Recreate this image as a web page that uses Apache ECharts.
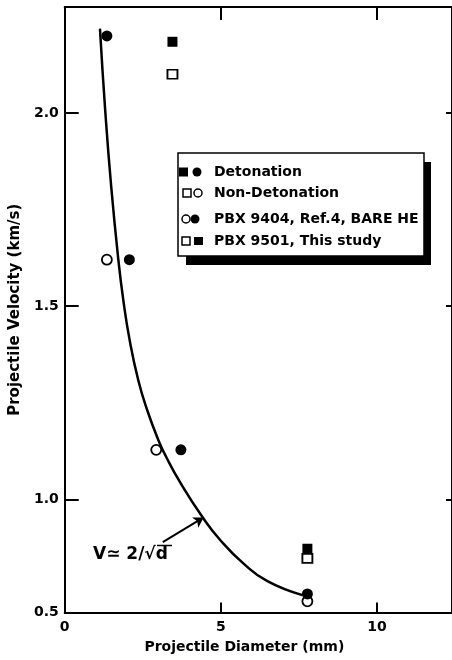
<!DOCTYPE html>
<html>
<head>
<meta charset="utf-8">
<script src="https://cdn.jsdelivr.net/npm/echarts@6/dist/echarts.min.js"></script>
<style>html,body{margin:0;padding:0;background:#fff;}#c{width:452px;height:660px;}</style>
</head>
<body>
<div id="c"></div>
<script>
// ---- data ----
const xTickValues = [5, 10];
const xLabelValues = [0, 5, 10];
const yTickValues = [1.0, 1.5, 2.0];
const yLabelValues = [0.707, 1.0, 1.5, 2.0];
const yLabelText = ['0.5', '1.0', '1.5', '2.0'];

// fitted curve V ~ 2/sqrt(d) as drawn
const fitD = [1.129, 1.300, 1.489, 1.719, 1.877, 2.079, 2.356, 2.640, 3.000, 3.246, 3.716, 4.410, 4.984, 5.719, 6.490, 7.609];
const fitV = [2.218, 2.003, 1.809, 1.619, 1.515, 1.412, 1.308, 1.231, 1.153, 1.110, 1.041, 0.954, 0.894, 0.834, 0.788, 0.752];

// PBX 9404 (Ref.4, bare HE) - circles
const pbx9404DetD = [1.35, 2.07, 3.72, 7.77];
const pbx9404DetV = [2.199, 1.620, 1.128, 0.755];
const pbx9404NonD = [1.35, 2.93, 7.77];
const pbx9404NonV = [1.620, 1.128, 0.736];

// PBX 9501 (this study) - squares
const pbx9501DetD = [3.45, 7.77];
const pbx9501DetV = [2.184, 0.872];
const pbx9501NonD = [3.45, 7.77];
const pbx9501NonV = [2.100, 0.847];

// annotation arrow (data coords)
const arrowFrom = [3.14, 0.889];
const arrowTo = [4.45, 0.953];

const zip = (a, b) => a.map((v, i) => [v, b[i]]);
const FF = 'DejaVu Sans';
const black = '#000';

const chart = echarts.init(document.getElementById('c'), null, {renderer: 'canvas'});

const axisLineStyle = {show: true, onZero: false, lineStyle: {color: black, width: 2}};

const option = {
  backgroundColor: '#fff',
  animation: false,
  grid: {left: 60.5, top: 7, width: 393, height: 605.5, containLabel: false},
  xAxis: [
    {
      type: 'value', min: 0, max: 12.4, position: 'bottom',
      axisLine: axisLineStyle,
      axisTick: {show: true, inside: true, length: 10, customValues: xTickValues, lineStyle: {color: black, width: 2}},
      axisLabel: {customValues: xLabelValues, color: black, fontSize: 14, fontFamily: FF, fontWeight: 'bold', margin: 8},
      splitLine: {show: false},
      name: 'Projectile Diameter (mm)', nameLocation: 'middle', nameGap: 28,
      nameTextStyle: {color: black, fontSize: 14, fontFamily: FF, fontWeight: 'bold', padding: [0, 28, 0, 0]}
    },
    {
      type: 'value', min: 0, max: 12.4, position: 'top',
      axisLine: axisLineStyle,
      axisTick: {show: true, inside: true, length: 13, customValues: xTickValues, lineStyle: {color: black, width: 2}},
      axisLabel: {show: false},
      splitLine: {show: false}
    }
  ],
  yAxis: [
    {
      type: 'value', min: 0.707, max: 2.274, position: 'left',
      axisLine: axisLineStyle,
      axisTick: {show: true, inside: true, length: 14, customValues: yTickValues, lineStyle: {color: black, width: 2}},
      axisLabel: {
        customValues: yLabelValues, color: black, fontSize: 14, fontFamily: FF, fontWeight: 'bold', margin: 6,
        formatter: function (v) {
          let best = 0;
          yLabelValues.forEach((t, i) => { if (Math.abs(t - v) < Math.abs(yLabelValues[best] - v)) best = i; });
          return yLabelText[best];
        }
      },
      splitLine: {show: false},
      name: 'Projectile Velocity (km/s)', nameLocation: 'middle', nameGap: 25,
      nameTextStyle: {color: black, fontSize: 15, fontFamily: FF, fontWeight: 'bold'}
    },
    {
      type: 'value', min: 0.707, max: 2.274, position: 'right',
      axisLine: axisLineStyle,
      axisTick: {show: true, inside: true, length: 6, customValues: yTickValues, lineStyle: {color: black, width: 2}},
      axisLabel: {show: false},
      splitLine: {show: false}
    }
  ],
  series: [
    {
      name: 'fit', type: 'line', data: zip(fitD, fitV), smooth: 0.5, symbol: 'none',
      lineStyle: {color: black, width: 2.5}, silent: true, z: 2,
      markLine: {
        silent: true, symbol: ['none', 'arrow'], symbolSize: [9, 10],
        lineStyle: {color: black, width: 2, type: 'solid'}, label: {show: false},
        data: [[{coord: arrowFrom}, {coord: arrowTo}]]
      }
    },
    {
      name: 'PBX 9404 non-detonation', type: 'scatter', data: zip(pbx9404NonD, pbx9404NonV),
      symbol: 'circle', symbolSize: 10, itemStyle: {color: '#fff', borderColor: black, borderWidth: 1.8, opacity: 1}, z: 3
    },
    {
      name: 'PBX 9404 detonation', type: 'scatter', data: zip(pbx9404DetD, pbx9404DetV),
      symbol: 'circle', symbolSize: 11, itemStyle: {color: black, opacity: 1}, z: 4
    },
    {
      name: 'PBX 9501 non-detonation', type: 'scatter', data: zip(pbx9501NonD, pbx9501NonV),
      symbol: 'rect', symbolSize: [10, 9], itemStyle: {color: '#fff', borderColor: black, borderWidth: 1.8, opacity: 1}, z: 3
    },
    {
      name: 'PBX 9501 detonation', type: 'scatter', data: zip(pbx9501DetD, pbx9501DetV),
      symbol: 'rect', symbolSize: [10, 10], itemStyle: {color: black, opacity: 1}, z: 4
    }
  ],
  graphic: [
    // legend box with drop shadow
    {type: 'rect', shape: {x: 186, y: 162, width: 245, height: 103}, style: {fill: black}, z: 10},
    {type: 'rect', shape: {x: 178, y: 153, width: 246, height: 103}, style: {fill: '#fff', stroke: black, lineWidth: 1.5}, z: 11},
    // row 1: Detonation
    {type: 'rect', shape: {x: 179, y: 167.5, width: 9, height: 9}, style: {fill: black}, z: 12},
    {type: 'circle', shape: {cx: 197, cy: 172, r: 4.5}, style: {fill: black}, z: 12},
    {type: 'text', x: 214, y: 172, style: {text: 'Detonation', fill: black, font: 'bold 14px "DejaVu Sans"', verticalAlign: 'middle'}, z: 12},
    // row 2: Non-Detonation
    {type: 'rect', shape: {x: 183, y: 189, width: 8, height: 8}, style: {fill: '#fff', stroke: black, lineWidth: 1.5}, z: 12},
    {type: 'circle', shape: {cx: 198, cy: 193, r: 4}, style: {fill: '#fff', stroke: black, lineWidth: 1.5}, z: 12},
    {type: 'text', x: 214, y: 193, style: {text: 'Non-Detonation', fill: black, font: 'bold 14px "DejaVu Sans"', verticalAlign: 'middle'}, z: 12},
    // row 3: PBX 9404
    {type: 'circle', shape: {cx: 186, cy: 219, r: 4}, style: {fill: '#fff', stroke: black, lineWidth: 1.5}, z: 12},
    {type: 'circle', shape: {cx: 195, cy: 219, r: 4.5}, style: {fill: black}, z: 12},
    {type: 'text', x: 214, y: 219, style: {text: 'PBX 9404, Ref.4, BARE HE', fill: black, font: 'bold 14px "DejaVu Sans"', verticalAlign: 'middle'}, z: 12},
    // row 4: PBX 9501
    {type: 'rect', shape: {x: 182, y: 237, width: 8, height: 8}, style: {fill: '#fff', stroke: black, lineWidth: 1.5}, z: 12},
    {type: 'rect', shape: {x: 194, y: 237, width: 9, height: 8}, style: {fill: black}, z: 12},
    {type: 'text', x: 214, y: 241, style: {text: 'PBX 9501, This study', fill: black, font: 'bold 14px "DejaVu Sans"', verticalAlign: 'middle'}, z: 12},
    // curve annotation
    {type: 'text', x: 93, y: 555, style: {text: 'V\u2243 2/\u221Ad', fill: black, font: 'bold 17px "DejaVu Sans"', verticalAlign: 'middle'}, z: 12},
    {type: 'line', shape: {x1: 157, y1: 545.5, x2: 172, y2: 545.5}, style: {stroke: black, lineWidth: 1.5}, z: 12}
  ]
};
chart.setOption(option);
</script>
</body>
</html>
